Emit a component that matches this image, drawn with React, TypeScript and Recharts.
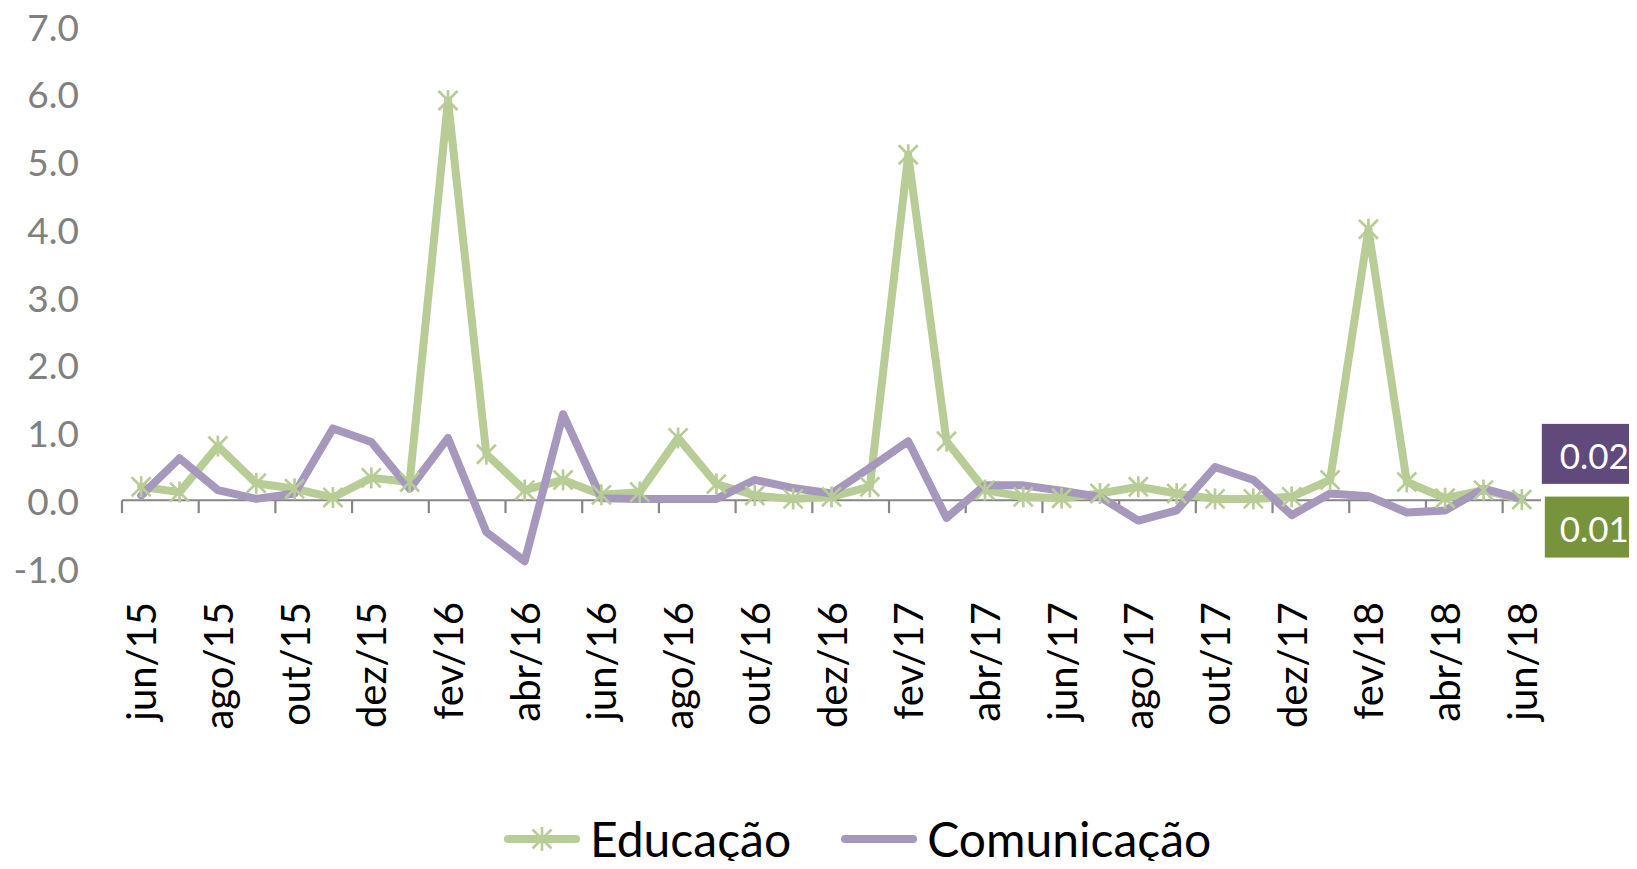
import React from 'react';
import { LineChart, Line, XAxis, YAxis, ReferenceLine, Legend, LabelList } from 'recharts';

const months = ['jun/15','jul/15','ago/15','set/15','out/15','nov/15','dez/15','jan/16','fev/16','mar/16','abr/16','mai/16','jun/16','jul/16','ago/16','set/16','out/16','nov/16','dez/16','jan/17','fev/17','mar/17','abr/17','mai/17','jun/17','jul/17','ago/17','set/17','out/17','nov/17','dez/17','jan/18','fev/18','mar/18','abr/18','mai/18','jun/18'];
const educacao = [0.2,0.12,0.8,0.25,0.17,0.04,0.33,0.27,5.9,0.68,0.15,0.3,0.08,0.12,0.92,0.24,0.07,0.02,0.05,0.2,5.1,0.87,0.15,0.05,0.03,0.1,0.2,0.1,0.02,0.02,0.05,0.3,4.0,0.27,0.03,0.15,0.01];
const comunicacao = [0.07,0.62,0.15,0.02,0.1,1.06,0.86,0.17,0.92,-0.47,-0.9,1.27,0.03,0.02,0.02,0.02,0.3,0.18,0.1,0.48,0.87,-0.26,0.22,0.22,0.14,0.05,-0.3,-0.15,0.49,0.3,-0.22,0.1,0.06,-0.18,-0.15,0.17,0.02];
const yTicks = [-1, 0, 1, 2, 3, 4, 5, 6, 7];
const lastLabels = { edu: '0.01', com: '0.02' };

const GREEN = '#B8CD96';
const PURPLE = '#A698BD';
const FONT = 'Lato, "Open Sans", sans-serif';

const data = months.map((m, i) => ({ i, month: m, edu: educacao[i], com: comunicacao[i] }));
const labelIdx = months.map((_, i) => i).filter((i) => i % 2 === 0);
const boundaries = labelIdx.map((i) => i - 0.5);

const StarDot = (props: any) => {
  const { cx, cy } = props;
  if (cx == null || cy == null) return null;
  const r = 9.5;
  return (
    <g stroke={GREEN} strokeWidth={2.7}>
      <line x1={cx - r} y1={cy - r} x2={cx + r} y2={cy + r} />
      <line x1={cx - r} y1={cy + r} x2={cx + r} y2={cy - r} />
      <line x1={cx} y1={cy - r - 1} x2={cx} y2={cy + r + 1} />
    </g>
  );
};

const XTick = (props: any) => {
  const { x, y, payload } = props;
  const ty = y + 34;
  return (
    <text x={x} y={ty} transform={`rotate(-90, ${x}, ${ty})`} textAnchor="end" dominantBaseline="central"
      fill="#000" fontSize={40} fontFamily={FONT}>
      {months[payload.value]}
    </text>
  );
};

const YTick = (props: any) => {
  const { y, payload } = props;
  return (
    <text x={79} y={y} textAnchor="end" dominantBaseline="central" fill="#808080" fontSize={37} fontFamily={FONT}>
      {Number(payload.value).toFixed(1)}
    </text>
  );
};

const makeEndLabel = (text: string, fill: string, dx: number, dyTop: number, w: number, h: number) => (props: any) => {
  const { x, y, index } = props;
  if (index !== months.length - 1) return null;
  const rx = x + dx;
  const ry = y + dyTop;
  return (
    <g>
      <rect x={rx} y={ry} width={w} height={h} fill={fill} />
      <text x={rx + w - 8} y={ry + h / 2 + 1} textAnchor="end" dominantBaseline="central" fill="#fff" fontSize={35} fontFamily={FONT}>
        {text}
      </text>
    </g>
  );
};

const LegendContent = () => (
  <div style={{ display: 'flex', justifyContent: 'flex-start', alignItems: 'center', fontFamily: FONT, fontSize: 48, color: '#000', paddingLeft: 504 }}>
    <svg width={76} height={30} style={{ marginRight: 10 }}>
      <line x1={4} y1={15} x2={72} y2={15} stroke={GREEN} strokeWidth={8} strokeLinecap="round" />
      <g stroke={GREEN} strokeWidth={2.7}>
        <line x1={28.5} y1={5.5} x2={47.5} y2={24.5} />
        <line x1={28.5} y1={24.5} x2={47.5} y2={5.5} />
        <line x1={38} y1={3} x2={38} y2={27} />
      </g>
    </svg>
    <span style={{ marginRight: 50 }}>Educação</span>
    <svg width={76} height={30} style={{ marginRight: 10 }}>
      <line x1={4} y1={15} x2={72} y2={15} stroke={PURPLE} strokeWidth={8} strokeLinecap="round" />
    </svg>
    <span>Comunicação</span>
  </div>
);

export default function App() {
  return (
    <div style={{ margin: -8, width: 1637, height: 869, background: '#fff' }}>
      <LineChart width={1637} height={869} data={data} margin={{ top: 26, right: 96, left: 0, bottom: 0 }}>
        <XAxis dataKey="i" type="number" domain={[-0.5, 36.5]} ticks={labelIdx} interval={0}
          axisLine={false} tickLine={false} tickSize={0} tickMargin={0} height={301} tick={<XTick />} allowDataOverflow />
        <YAxis type="number" domain={[-1, 7]} ticks={yTicks} width={122} axisLine={false} tickLine={false} tick={<YTick />} allowDataOverflow />
        <ReferenceLine y={0} stroke="#868686" strokeWidth={2.2} />
        {boundaries.map((b) => (
          <ReferenceLine key={b} segment={[{ x: b, y: 0 }, { x: b, y: -0.19 }]} stroke="#868686" strokeWidth={2.2} />
        ))}
        <Line dataKey="edu" stroke={GREEN} strokeWidth={8} strokeLinejoin="round" strokeLinecap="round" dot={<StarDot />} activeDot={false} isAnimationActive={false}>
          <LabelList dataKey="edu" content={makeEndLabel(lastLabels.edu, '#77933C', 23, -3, 92, 61)} />
        </Line>
        <Line dataKey="com" stroke={PURPLE} strokeWidth={8} strokeLinejoin="round" strokeLinecap="round" dot={false} activeDot={false} isAnimationActive={false}>
          <LabelList dataKey="com" content={makeEndLabel(lastLabels.com, '#604A7B', 20, -75, 95, 60)} />
        </Line>
        <Legend layout="horizontal" verticalAlign="middle" align="center" wrapperStyle={{ top: 810, left: 0, width: 1637 }} content={<LegendContent />} />
      </LineChart>
    </div>
  );
}
